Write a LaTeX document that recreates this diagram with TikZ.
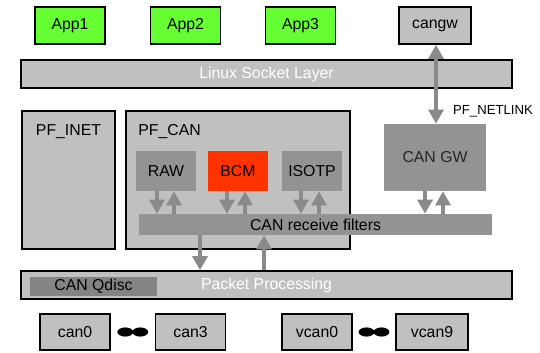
\documentclass[tikz,border=0pt]{standalone}
\usepackage{fontspec}
\setmainfont{Liberation Sans}
\usetikzlibrary{arrows.meta,calc}
\definecolor{boxgray}{HTML}{C0C0C0}
\definecolor{ingray}{HTML}{939393}
\definecolor{appgreen}{HTML}{66FF33}
\definecolor{bcmred}{HTML}{FF3300}
\definecolor{flowgray}{HTML}{8A8A8A}
\tikzset{
  layer/.style={draw,line width=1pt,fill=boxgray,inner sep=0pt},
  inbox/.style={fill=ingray,inner sep=0pt},
  flow/.style={draw=flowgray,line width=2.8pt,-{Triangle[width=8.5pt,length=8pt]}},
}
\begin{document}
\begin{tikzpicture}[x=0.02cm,y=-0.02cm,font=\fontsize{9}{11}\selectfont]
    \useasboundingbox (0,0) rectangle (540,352);
    % applications
    \node(app1)[layer,fill=appgreen,minimum width=1.4cm,minimum height=.74cm] at (70,25.5){App1};
    \node(app2)[layer,fill=appgreen,minimum width=1.4cm,minimum height=.74cm] at (185.5,25.5){App2};
    \node(app3)[layer,fill=appgreen,minimum width=1.4cm,minimum height=.74cm] at (300.5,25.5){App3};
    \node(cangw)[layer,minimum width=1.44cm,minimum height=.74cm] at (435,25.5){cangw};
    \node(socket)[layer,text=white,minimum width=9.82cm,minimum height=.56cm] at (266.5,74){Linux Socket Layer};
    % protocol families
    \node(inet)[layer,minimum width=1.86cm,minimum height=2.76cm,
        label={[anchor=north,yshift=-4.5pt]north:PF\_INET}] at (68.5,180){};
    \node(pfcan)[layer,minimum width=4.48cm,minimum height=2.76cm,
        label={[anchor=north west,xshift=4pt,yshift=-4.5pt]north west:PF\_CAN}] at (238,180){};
    \node(raw)[inbox,minimum width=1.2cm,minimum height=.8cm] at (166,171){RAW};
    \node(bcm)[inbox,fill=bcmred,minimum width=1.2cm,minimum height=.8cm] at (238,171){BCM};
    \node(isotp)[inbox,minimum width=1.2cm,minimum height=.8cm] at (312,171){ISOTP};
    \node(gw)[inbox,text=black!85,minimum width=2.04cm,minimum height=1.34cm] at (435,157.5){CAN GW};
    \node(filters)[inbox,minimum width=7.06cm,minimum height=.42cm] at (315.5,224.5){CAN receive filters};
    % packet layer
    \node(packet)[layer,text=white,minimum width=9.82cm,minimum height=.56cm] at (266.5,285){Packet Processing};
    \node(qdisc)[inbox,fill=ingray!90!black,minimum width=2.54cm,minimum height=.38cm] at (93.5,286.5){CAN Qdisc};
    % devices
    \node(can0)[layer,minimum width=1.4cm,minimum height=.72cm] at (75,332){can0};
    \node(can3)[layer,minimum width=1.4cm,minimum height=.72cm] at (190.5,332){can3};
    \node(vcan0)[layer,minimum width=1.4cm,minimum height=.72cm] at (317,332){vcan0};
    \node(vcan9)[layer,minimum width=1.44cm,minimum height=.72cm] at (432,332){vcan9};
    \fill ($(can0.east)!.5!(can3.west)+(-7.5,0)$) ellipse [x radius=4.5pt,y radius=2.6pt];
    \fill ($(can0.east)!.5!(can3.west)+(7.5,0)$) ellipse [x radius=4.5pt,y radius=2.6pt];
    \fill ($(vcan0.east)!.5!(vcan9.west)+(-7.5,0)$) ellipse [x radius=4.5pt,y radius=2.6pt];
    \fill ($(vcan0.east)!.5!(vcan9.west)+(7.5,0)$) ellipse [x radius=4.5pt,y radius=2.6pt];
    % data flow
    \draw[flow] ([xshift=-.18cm]raw.south) -- ([xshift=-.18cm]raw.south |- filters.north);
    \draw[flow] ([xshift=.16cm]raw.south |- filters.north) -- ([xshift=.16cm]raw.south);
    \draw[flow] ([xshift=-.22cm]bcm.south) -- ([xshift=-.22cm]bcm.south |- filters.north);
    \draw[flow] ([xshift=.14cm]bcm.south |- filters.north) -- ([xshift=.14cm]bcm.south);
    \draw[flow] ([xshift=-.22cm]isotp.south) -- ([xshift=-.22cm]isotp.south |- filters.north);
    \draw[flow] ([xshift=.14cm]isotp.south |- filters.north) -- ([xshift=.14cm]isotp.south);
    \draw[flow] ([xshift=-.2cm]gw.south) -- ([xshift=-.2cm]gw.south |- filters.north);
    \draw[flow] ([xshift=.16cm]gw.south |- filters.north) -- ([xshift=.16cm]gw.south);
    \draw[flow] ([xshift=-2.31cm]filters.south) -- ([xshift=-2.31cm]filters.south |- packet.north);
    \draw[flow] ([xshift=-1.03cm]filters.south |- packet.north) -- ([xshift=-1.03cm]filters.south);
    \draw[flow,{Triangle[width=8.5pt,length=8pt]}-{Triangle[width=8.5pt,length=8pt]}] ([xshift=.02cm]cangw.south) -- ([xshift=.02cm]gw.north)
        node[pos=.84,anchor=west,xshift=5pt,text=black,font=\fontsize{7.5}{9}\selectfont]{PF\_NETLINK};
\end{tikzpicture}
\end{document}
